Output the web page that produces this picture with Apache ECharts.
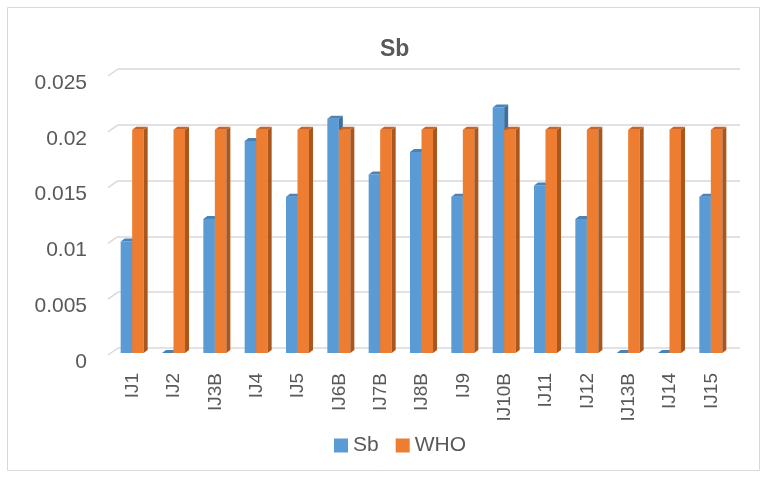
<!DOCTYPE html>
<html>
<head>
<meta charset="utf-8">
<script src="https://cdn.jsdelivr.net/npm/echarts@6/dist/echarts.min.js"></script>
<style>
html, body { margin: 0; padding: 0; background: #fff; }
#sbchart { width: 768px; height: 478px; }
</style>
</head>
<body>
<div id="sbchart"></div>
<script>
// categories and values
var sites = ['IJ1', 'IJ2', 'IJ3B', 'IJ4', 'IJ5', 'IJ6B', 'IJ7B', 'IJ8B', 'IJ9', 'IJ10B', 'IJ11', 'IJ12', 'IJ13B', 'IJ14', 'IJ15'];
var sbValues = [0.01, 0, 0.012, 0.019, 0.014, 0.021, 0.016, 0.018, 0.014, 0.022, 0.015, 0.012, 0, 0, 0.014];
var whoValues = [0.02, 0.02, 0.02, 0.02, 0.02, 0.02, 0.02, 0.02, 0.02, 0.02, 0.02, 0.02, 0.02, 0.02, 0.02];
var yTicks = [0, 0.005, 0.01, 0.015, 0.02, 0.025];

var sbchart = echarts.init(document.getElementById('sbchart'));

function toPairs(arr) {
    return arr.map(function (v, i) { return [i, v]; });
}

// fake 3d column: front face + dark side + top
function column3d(offset, face, side, top) {
    return function (params, api) {
        var idx = api.value(0);
        var base = api.coord([idx, 0]);
        var tip = api.coord([idx, api.value(1)]);
        var w = 11.5, dx = 4, dy = 3;
        var x0 = base[0] + offset, x1 = x0 + w;
        var yb = base[1], yt = tip[1];
        return {
            type: 'group',
            children: [
                { type: 'rect', shape: { x: x0, y: yt, width: w, height: yb - yt }, style: { fill: face } },
                { type: 'polygon', shape: { points: [[x1, yt], [x1 + dx, yt - dy], [x1 + dx, yb - dy], [x1, yb]] }, style: { fill: side } },
                { type: 'polygon', shape: { points: [[x0, yt], [x0 + dx, yt - dy], [x1 + dx, yt - dy], [x1, yt]] }, style: { fill: top } }
            ]
        };
    };
}

var txt = '#595959';
var font = 'Liberation Sans';
var option = {
    animation: false,
    title: {
        text: 'Sb',
        left: 375,
        top: 33,
        textStyle: { color: txt, fontSize: 23, fontWeight: 'bold', fontFamily: font }
    },
    legend: {
        bottom: 17,
        left: 329,
        icon: 'rect',
        itemWidth: 14,
        itemHeight: 14,
        itemGap: 17,
        textStyle: { color: txt, fontSize: 21, fontFamily: font },
        data: ['Sb', 'WHO']
    },
    // grid 0 = front (columns + labels), grid 1 = back wall with grid lines
    grid: [
        { left: 112, right: 36, top: 74, bottom: 125 },
        { left: 118, right: 28, top: 69, bottom: 130 }
    ],
    xAxis: [
        {
            type: 'category',
            gridIndex: 0,
            data: sites,
            axisLine: { show: false },
            axisTick: { show: false },
            axisLabel: {
                rotate: 90,
                margin: 20,
                color: txt,
                fontSize: 19,
                fontFamily: font
            }
        },
        { type: 'category', gridIndex: 1, data: sites, show: false }
    ],
    yAxis: [
        {
            type: 'value',
            gridIndex: 0,
            min: 0,
            max: 0.025,
            interval: 0.005,
            axisLine: { show: false },
            axisTick: { show: false },
            splitLine: { show: false },
            axisLabel: {
                margin: 25,
                verticalAlign: 'top',
                lineHeight: 18,
                color: txt,
                fontSize: 21,
                fontFamily: font,
                formatter: function (v) {
                    return yTicks.indexOf(v) >= 0 ? String(+v.toFixed(3)) : '';
                }
            }
        },
        {
            type: 'value',
            gridIndex: 1,
            min: 0,
            max: 0.025,
            interval: 0.005,
            axisLine: { show: false },
            axisTick: { show: false },
            axisLabel: { show: false },
            splitLine: { lineStyle: { color: '#d9d9d9', width: 1.5 } }
        }
    ],
    series: [
        {
            name: 'Sb',
            type: 'custom',
            xAxisIndex: 0,
            yAxisIndex: 0,
            itemStyle: { color: '#5B9BD5' },
            encode: { x: 0, y: 1 },
            renderItem: column3d(-12, '#5B9BD5', '#3F6F9A', '#4A83B8'),
            data: toPairs(sbValues)
        },
        {
            name: 'WHO',
            type: 'custom',
            xAxisIndex: 0,
            yAxisIndex: 0,
            itemStyle: { color: '#ED7D31' },
            encode: { x: 0, y: 1 },
            renderItem: column3d(-0.5, '#ED7D31', '#A9561F', '#C8652A'),
            data: toPairs(whoValues)
        }
    ]
};
sbchart.setOption(option);

// outer chart border and small slanted stubs joining the back wall lines
var stubs = yTicks.map(function (v) {
    var p = sbchart.convertToPixel({ yAxisIndex: 1 }, v);
    return {
        type: 'line',
        shape: { x1: 108, y1: p + 7, x2: 118, y2: p },
        style: { stroke: '#d9d9d9', lineWidth: 1.5 },
        silent: true
    };
});
sbchart.setOption({
    graphic: [{
        type: 'rect',
        shape: { x: 7.5, y: 7.5, width: 752, height: 463 },
        style: { fill: 'none', stroke: '#d9d9d9', lineWidth: 1 },
        silent: true
    }].concat(stubs)
});
</script>
</body>
</html>
